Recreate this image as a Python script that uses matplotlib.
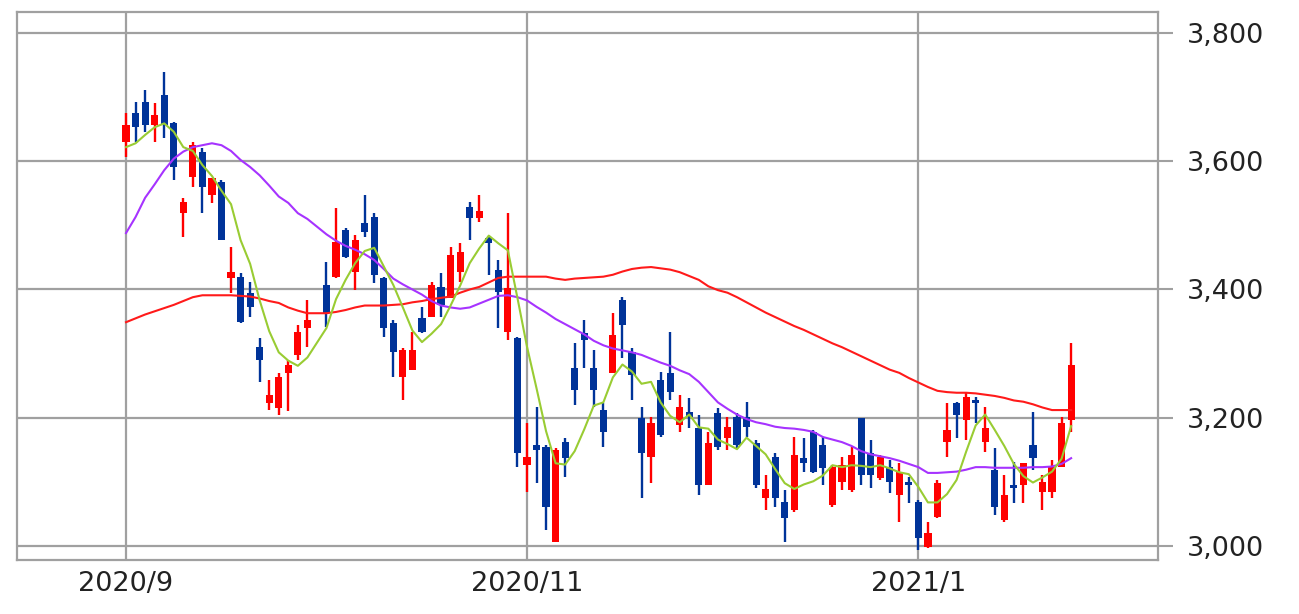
import numpy as np
import matplotlib
matplotlib.use("Agg")
import matplotlib.pyplot as plt

# daily candles, one slot per trading day (slot 20 = 2020/10/1, no trading)
opens = [3630, 3675, 3692, 3656, 3703, 3660, 3519, 3575, 3614, 3547,
         3568, 3418, 3419, 3395, 3310, 3223, 3215, 3270, 3298, 3340,
         None, 3407, 3420, 3493, 3427, 3504, 3513, 3418, 3348, 3264,
         3274, 3356, 3357, 3404, 3387, 3427, 3529, 3512, 3480, 3430,
         3334, 3324, 3126, 3157, 3154, 3006, 3162, 3278, 3332, 3278,
         3212, 3270, 3384, 3303, 3200, 3139, 3259, 3270, 3189, 3209,
         3184, 3095, 3207, 3168, 3201, 3201, 3161, 3075, 3139, 3069,
         3056, 3137, 3178, 3157, 3064, 3100, 3087, 3200, 3145, 3106,
         3123, 3080, 3100, 3069, 2998, 3045, 3162, 3223, 3196, 3228,
         3162, 3118, 3041, 3095, 3095, 3157, 3084, 3084, 3123, 3196]
highs = [3675, 3692, 3711, 3691, 3739, 3661, 3543, 3630, 3621, 3574,
         3570, 3466, 3426, 3412, 3324, 3259, 3270, 3290, 3345, 3384,
         None, 3443, 3527, 3496, 3485, 3547, 3519, 3420, 3352, 3309,
         3334, 3373, 3412, 3426, 3466, 3472, 3536, 3547, 3482, 3446,
         3519, 3326, 3192, 3217, 3157, 3153, 3168, 3317, 3352, 3306,
         3223, 3363, 3388, 3309, 3217, 3201, 3271, 3334, 3235, 3231,
         3204, 3178, 3215, 3201, 3207, 3225, 3165, 3111, 3145, 3087,
         3170, 3168, 3181, 3170, 3126, 3139, 3154, 3200, 3165, 3142,
         3134, 3129, 3108, 3072, 3037, 3103, 3223, 3225, 3239, 3232,
         3217, 3153, 3111, 3131, 3129, 3209, 3111, 3134, 3201, 3317]
lows = [3607, 3630, 3646, 3630, 3636, 3571, 3482, 3560, 3519, 3535,
        3477, 3395, 3348, 3357, 3256, 3212, 3204, 3210, 3290, 3310,
        None, 3342, 3418, 3449, 3399, 3482, 3410, 3326, 3264, 3228,
        3274, 3332, 3357, 3357, 3387, 3412, 3477, 3505, 3423, 3340,
        3321, 3123, 3084, 3098, 3025, 3006, 3108, 3220, 3278, 3217,
        3154, 3270, 3293, 3228, 3075, 3098, 3170, 3228, 3178, 3184,
        3080, 3095, 3150, 3150, 3153, 3170, 3090, 3056, 3061, 3006,
        3053, 3115, 3114, 3095, 3061, 3087, 3084, 3095, 3090, 3103,
        3083, 3037, 3067, 2994, 2997, 3044, 3139, 3168, 3165, 3192,
        3147, 3048, 3037, 3067, 3067, 3118, 3056, 3075, 3123, 3178]
closes = [3656, 3653, 3656, 3672, 3656, 3591, 3536, 3625, 3560, 3574,
          3477, 3427, 3349, 3373, 3290, 3235, 3264, 3283, 3334, 3352,
          None, 3363, 3474, 3451, 3477, 3490, 3423, 3340, 3303, 3306,
          3306, 3334, 3407, 3376, 3454, 3458, 3512, 3522, 3472, 3396,
          3402, 3145, 3139, 3150, 3061, 3150, 3137, 3243, 3321, 3243,
          3178, 3329, 3345, 3267, 3145, 3192, 3173, 3240, 3217, 3201,
          3095, 3161, 3154, 3186, 3157, 3186, 3095, 3089, 3075, 3044,
          3142, 3129, 3115, 3122, 3123, 3126, 3142, 3111, 3111, 3139,
          3100, 3115, 3095, 3012, 3020, 3098, 3181, 3204, 3232, 3223,
          3184, 3061, 3080, 3090, 3129, 3137, 3100, 3123, 3192, 3282]

# moving averages as drawn on the chart
ma5 = [3622, 3628, 3641, 3653, 3659, 3646, 3622, 3616, 3594, 3577,
       3554, 3533, 3477, 3440, 3383, 3335, 3302, 3289, 3281, 3294,
       None, 3340, 3385, 3415, 3441, 3460, 3465, 3436, 3407, 3372,
       3336, 3318, 3331, 3346, 3375, 3406, 3441, 3464, 3484, 3472,
       3461, 3387, 3311, 3246, 3179, 3129, 3127, 3148, 3182, 3219,
       3224, 3263, 3283, 3272, 3253, 3256, 3224, 3203, 3193, 3205,
       3185, 3183, 3166, 3159, 3151, 3169, 3156, 3143, 3120, 3098,
       3089, 3096, 3101, 3110, 3126, 3123, 3126, 3125, 3123, 3126,
       3121, 3115, 3112, 3092, 3068, 3068, 3081, 3103, 3147, 3188,
       3205, 3181, 3156, 3128, 3109, 3099, 3107, 3116, 3136, 3187]
ma25 = [3488, 3513, 3543, 3564, 3586, 3604, 3615, 3622, 3625, 3628,
        3625, 3616, 3602, 3591, 3578, 3562, 3545, 3535, 3519, 3510,
        None, 3486, 3476, 3468, 3462, 3455, 3446, 3432, 3417, 3408,
        3400, 3392, 3382, 3375, 3372, 3370, 3372, 3378, 3384, 3390,
        3391, 3388, 3383, 3373, 3364, 3354, 3346, 3338, 3330, 3320,
        3313, 3308, 3305, 3302, 3298, 3292, 3286, 3281, 3274, 3268,
        3256, 3240, 3224, 3214, 3205, 3198, 3193, 3190, 3186, 3184,
        3183, 3181, 3178, 3170, 3166, 3162, 3156, 3148, 3143, 3140,
        3137, 3133, 3128, 3123, 3114, 3114, 3115, 3116, 3119, 3123,
        3123, 3122, 3122, 3122, 3122, 3123, 3123, 3124, 3128, 3137]
ma75 = [3349, 3355, 3361, 3366, 3371, 3376, 3382, 3388, 3391, 3391,
        3391, 3391, 3390, 3389, 3386, 3382, 3379, 3372, 3367, 3363,
        None, 3363, 3365, 3368, 3372, 3375, 3375, 3375, 3376, 3377,
        3380, 3382, 3385, 3387, 3389, 3395, 3400, 3404, 3411, 3418,
        3420, 3420, 3420, 3420, 3420, 3417, 3415, 3417, 3418, 3419,
        3420, 3423, 3428, 3432, 3434, 3435, 3433, 3431, 3427, 3421,
        3415, 3405, 3399, 3395, 3388, 3380, 3372, 3364, 3357, 3350,
        3343, 3337, 3330, 3323, 3316, 3310, 3303, 3296, 3289, 3282,
        3275, 3270, 3262, 3255, 3248, 3242, 3240, 3239, 3239, 3238,
        3236, 3234, 3231, 3227, 3225, 3221, 3216, 3212, 3212, 3212]

month_pos = [0, 42, 83]
month_labels = ["2020/9", "2020/11", "2021/1"]
y_ticks = [3000, 3200, 3400, 3600, 3800]

UP = "#ff0000"
DOWN = "#003399"
GRID = "#a0a0a0"

o = np.array(opens, dtype=float)
h = np.array(highs, dtype=float)
l = np.array(lows, dtype=float)
c = np.array(closes, dtype=float)
x = np.arange(len(o))
ok = ~np.isnan(o)

fig = plt.figure(figsize=(12.99, 6.14), dpi=100)
ax = fig.add_axes([17 / 1299, 1 - 560 / 614, 1141 / 1299, 548 / 614])

ax.set_xlim(-11.42, 108.1)
ax.set_ylim(2978.2, 3832.7)

# grid
for v in y_ticks:
    ax.axhline(v, color=GRID, lw=1.6, zorder=0)
for p in month_pos:
    ax.axvline(p, color=GRID, lw=1.6, zorder=0)

# candles
cols = np.where(c >= o, UP, DOWN)
ax.vlines(x[ok], l[ok], h[ok], colors=cols[ok], lw=1.7, zorder=2)
body_lo = np.minimum(o, c)
body_h = np.maximum(np.abs(c - o), 2.5)
ax.bar(x[ok], body_h[ok], bottom=body_lo[ok], width=0.75,
       color=cols[ok], lw=0, zorder=3)

# moving averages
for vals, col in [(ma75, "#ff1a1a"), (ma25, "#a633ff"), (ma5, "#99cc33")]:
    v = np.array(vals, dtype=float)
    m = ~np.isnan(v)
    ax.plot(x[m], v[m], color=col, lw=1.5, zorder=4)

ax.set_yticks(y_ticks)
ax.set_yticklabels([f"{t:,}" for t in y_ticks])
ax.yaxis.tick_right()
ax.tick_params(axis="y", length=10.5, width=1.5, color=GRID, pad=10,
               labelsize=19.5, labelcolor="#222222")
ax.set_xticks(month_pos)
ax.set_xticklabels(month_labels)
ax.tick_params(axis="x", length=0, pad=8, labelsize=19.5, labelcolor="#222222")

for s in ax.spines.values():
    s.set_color(GRID)
    s.set_linewidth(1.6)

fig.savefig("out.png", dpi=100, facecolor="white")
